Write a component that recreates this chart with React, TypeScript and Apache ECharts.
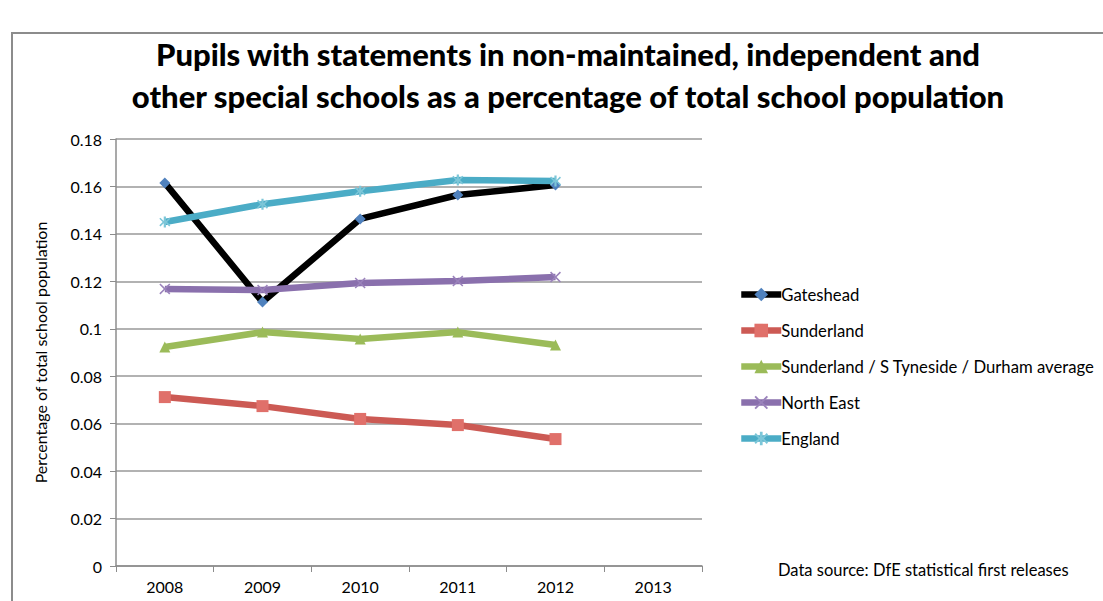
import React, { useEffect, useRef } from "react";
import * as echarts from "echarts";

const years = ["2008", "2009", "2010", "2011", "2012", "2013"];
const gateshead = [0.1615, 0.1113, 0.1463, 0.1564, 0.1606];
const sunderland = [0.0712, 0.0674, 0.062, 0.0594, 0.0535];
const sunderlandAvg = [0.0923, 0.0986, 0.0957, 0.0986, 0.0932];
const northEast = [0.1168, 0.1163, 0.1193, 0.1201, 0.1218];
const england = [0.145, 0.1525, 0.158, 0.1627, 0.1623];

const FONT = "Lato, 'Liberation Sans', sans-serif";
const X_SYM = "path://M0,1 L1,0 L5,4 L9,0 L10,1 L6,5 L10,9 L9,10 L5,6 L1,10 L0,9 L4,5 Z";
const STAR_SYM = "path://M4,0 L6,0 L6,4 L9,1 L10,2 L7,5 L10,8 L9,9 L6,6 L6,10 L4,10 L4,6 L1,9 L0,8 L3,5 L0,2 L1,1 L4,4 Z";

export default function App() {
  const ref = useRef<HTMLDivElement>(null);
  useEffect(() => {
    if (!ref.current) return;
    const chart = echarts.init(ref.current, undefined, { renderer: "svg" });
    const mk = (name: string, data: number[], color: string, symbol: string, symColor: string, size: number) => ({
      name,
      type: "line",
      data,
      symbol,
      symbolSize: size,
      showAllSymbol: true,
      lineStyle: { color, width: 6.5 },
      itemStyle: { color: symColor, borderColor: symColor, borderWidth: 0 },
      emphasis: { disabled: true },
    });
    chart.setOption({
      animation: false,
      backgroundColor: "#ffffff",
      title: {
        text: "Pupils with statements in non-maintained, independent and\nother special schools as a percentage of total school population",
        left: 563,
        textAlign: "center",
        top: 28,
        textStyle: { fontFamily: FONT, fontWeight: 900, fontSize: 31, color: "#000", lineHeight: 42 },
      },
      graphic: [
        {
          type: "polyline",
          shape: { points: [[12, 620], [12, 33], [1120, 33]] },
          style: { stroke: "#8c8c8c", lineWidth: 2, fill: "none" },
          silent: true,
        },
        {
          type: "text",
          left: 778,
          top: 561,
          style: { text: "Data source: DfE statistical first releases", font: `16.5px ${FONT}`, fill: "#000" },
        },
      ],
      grid: { left: 116, right: 401, top: 139, bottom: 35, containLabel: false },
      legend: {
        orient: "vertical",
        left: 733,
        top: 281,
        itemGap: 19,
        itemWidth: 40,
        itemHeight: 17,
        lineStyle: { width: 6.5 },
        textStyle: { fontFamily: FONT, fontSize: 16.7, color: "#000", padding: [0, 0, 0, -5] },
        data: ["Gateshead", "Sunderland", "Sunderland / S Tyneside / Durham average", "North East", "England"],
      },
      xAxis: {
        type: "category",
        data: years,
        boundaryGap: true,
        axisLine: { lineStyle: { color: "#8c8c8c", width: 1.5 } },
        axisTick: { show: true, length: 6, lineStyle: { color: "#8c8c8c" } },
        axisLabel: { fontFamily: FONT, fontSize: 16, color: "#000", margin: 12 },
      },
      yAxis: {
        type: "value",
        min: 0,
        max: 0.18,
        interval: 0.02,
        name: "Percentage of total school population",
        nameLocation: "middle",
        nameGap: 68,
        nameTextStyle: { fontFamily: FONT, fontSize: 16, color: "#000" },
        axisLine: { show: true, lineStyle: { color: "#8c8c8c", width: 1.5 } },
        axisTick: { show: true, length: 6, lineStyle: { color: "#8c8c8c" } },
        axisLabel: {
          fontFamily: FONT,
          fontSize: 16,
          color: "#000",
          margin: 14,
          formatter: (v: number) => String(Math.round(v * 100) / 100),
        },
        splitLine: { lineStyle: { color: "#999", width: 1.5 } },
      },
      series: [
        mk("Gateshead", gateshead, "#000000", "diamond", "#4f81bd", 11),
        mk("Sunderland", sunderland, "#cc5a54", "rect", "#e0706a", 12),
        mk("Sunderland / S Tyneside / Durham average", sunderlandAvg, "#9bbb59", "triangle", "#9bbb59", 11),
        mk("North East", northEast, "#8a70ad", X_SYM, "#9a82bb", 11),
        mk("England", england, "#4bacc6", STAR_SYM, "#7cc6d8", 11),
      ],
    });
    return () => chart.dispose();
  }, []);
  return <div ref={ref} style={{ position: "fixed", left: 0, top: 0, width: 1103, height: 601 }} />;
}
